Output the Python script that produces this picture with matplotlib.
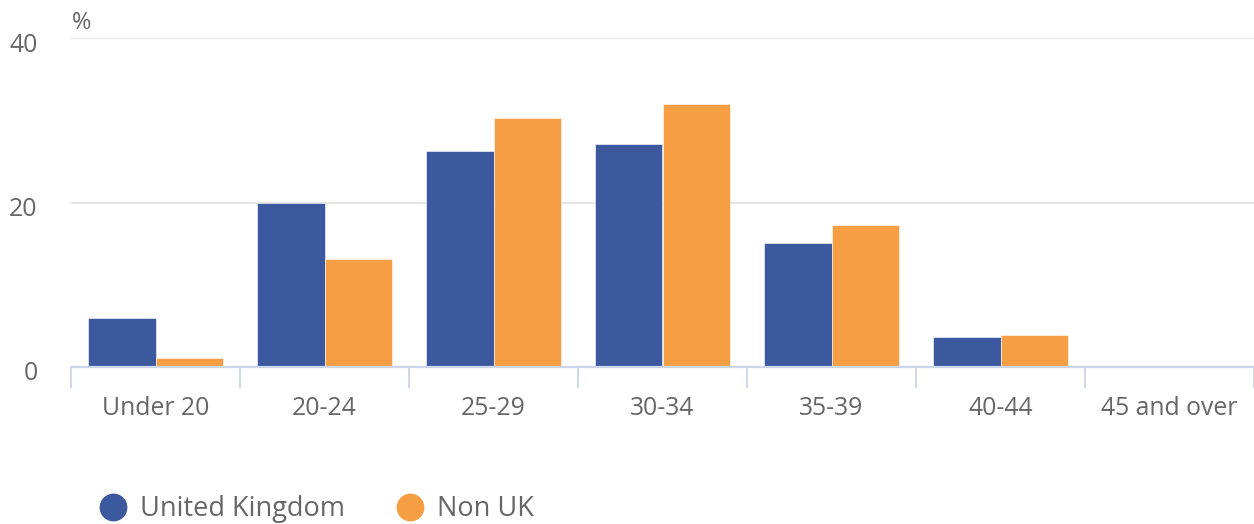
import numpy as np
import matplotlib
matplotlib.use("Agg")
import matplotlib.pyplot as plt
from matplotlib.lines import Line2D
from matplotlib.transforms import ScaledTranslation

plt.rcParams['font.family'] = ['Open Sans', 'DejaVu Sans']

# Data
categories = ["Under 20", "20-24", "25-29", "30-34", "35-39", "40-44", "45 and over"]
uk_values = [6.0, 20.0, 26.3, 27.1, 15.1, 3.6, 0.0]
non_uk_values = [1.1, 13.1, 30.3, 32.0, 17.3, 3.9, 0.0]
y_ticks = [0, 20, 40]

uk_color = "#3c59a0"
non_uk_color = "#f59e43"
text_color = "#666666"
axis_color = "#ccd6eb"
grid_color = "#e6e6e6"

fig = plt.figure(figsize=(12.54, 5.24), dpi=100)
ax = fig.add_axes([71 / 1254, 157 / 524, 1183 / 1254, 329 / 524])

x = np.arange(len(categories))
w = 0.4
ax.bar(x - w / 2, uk_values, w, color=uk_color, edgecolor="white", linewidth=0.4, zorder=3)
ax.bar(x + w / 2, non_uk_values, w, color=non_uk_color, edgecolor="white", linewidth=0.4, zorder=3)

ax.set_xlim(-0.5, len(categories) - 0.5)
ax.set_ylim(0, 40)

# y axis
ax.set_yticks(y_ticks)
ax.set_yticklabels([str(v) for v in y_ticks])
ax.tick_params(axis='y', length=0, pad=24, labelsize=17.8, labelcolor=text_color)
for lab in ax.get_yticklabels():
    lab.set_transform(lab.get_transform() + ScaledTranslation(0, -4 / 100, fig.dpi_scale_trans))
ax.grid(axis='y', color=grid_color, linewidth=1.6, zorder=0)

# x axis: labels at centres, tick marks at category boundaries
ax.set_xticks(x)
ax.set_xticklabels(categories)
ax.set_xticks(np.arange(len(categories) + 1) - 0.5, minor=True)
ax.tick_params(axis='x', which='major', length=0, pad=21, labelsize=17.8, labelcolor=text_color)
ax.tick_params(axis='x', which='minor', length=15, width=1.3, color=axis_color)

for s in ['top', 'right', 'left']:
    ax.spines[s].set_visible(False)
ax.spines['bottom'].set_color(axis_color)
ax.spines['bottom'].set_linewidth(1.6)
ax.spines['bottom'].set_zorder(4)

fig.text(72 / 1254, 1 - 23 / 524, "%", fontsize=17, color=text_color, va='center', ha='left')

handles = [
    Line2D([], [], marker='o', linestyle='none', markersize=19, color=uk_color),
    Line2D([], [], marker='o', linestyle='none', markersize=19, color=non_uk_color),
]
fig.legend(handles, ["United Kingdom", "Non UK"], loc='center left',
           bbox_to_anchor=(86 / 1254, 1 - 509 / 524), frameon=False, ncol=2,
           fontsize=19.5, labelcolor=text_color, handlelength=1.0, handletextpad=0.5,
           columnspacing=1.88, borderpad=0)

fig.savefig("out.png", dpi=100)
